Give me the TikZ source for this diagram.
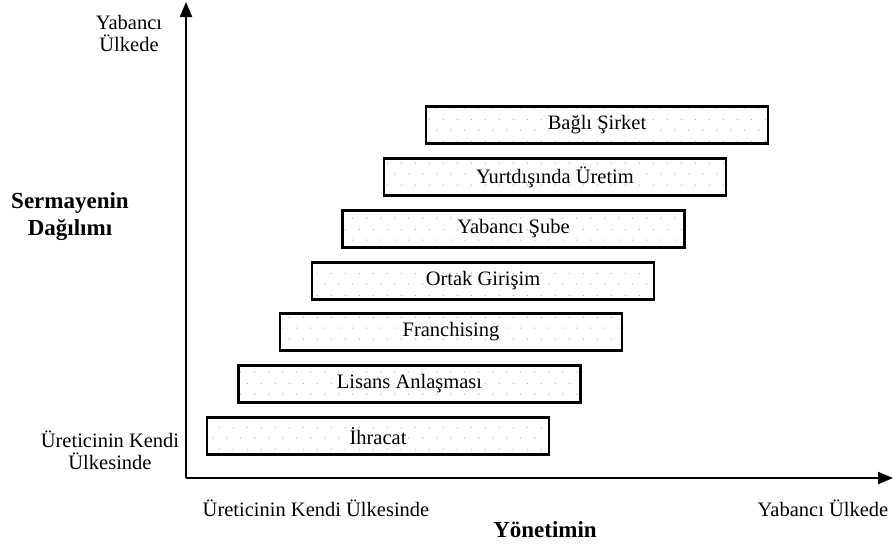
\documentclass[tikz,border=0pt]{standalone}
\usepackage{fontspec}
\setmainfont{Liberation Serif}
\usetikzlibrary{arrows.meta,patterns.meta}
\tikzdeclarepattern{name=sparsedots, type=colored,
  bounding box={(0pt,0pt) and (14pt,22pt)}, tile size={(14pt,22pt)},
  code={
    \fill[gray!55] (3pt,3pt) circle (0.75pt);
    \fill[gray!55] (10pt,14pt) circle (0.75pt);
  }}
\tikzset{
  bx/.style={draw=black, line width=2.6pt, minimum width=342pt, minimum height=37pt,
    pattern=sparsedots, inner sep=0pt, font=\fontsize{20.5}{24}\selectfont},
  lbl/.style={align=center, font=\fontsize{20.5}{22}\selectfont, inner sep=0pt},
  blbl/.style={align=center, font=\fontsize{23}{27}\selectfont\bfseries, inner sep=0pt},
  axis/.style={line width=2pt, -{Triangle[length=15pt,width=12pt]}}
}
\begin{document}
\begin{tikzpicture}[x=1pt,y=-1pt]
\useasboundingbox (0,0) rectangle (893,550);
\fill[white] (0,0) rectangle (893,550);
\coordinate (O) at (186,478);
\coordinate (Ytop) at (186,2);
\coordinate (Xend) at (893,478);
\draw[axis] (O) -- (Ytop);
\draw[axis] (O) -- (Xend);

\node[bx] (b1) at (597,125) {Bağlı Şirket};
\node[bx] (b2) at (555,177) {Yurtdışında Üretim};
\node[bx] (b3) at (513.5,229) {Yabancı Şube};
\node[bx] (b4) at (483,281) {Ortak Girişim};
\node[bx] (b5) at (451,332) {Franchising};
\node[bx] (b6) at (409.5,384) {Lisans Anlaşması};
\node[bx] (b7) at (378,436) {İhracat};

\node[lbl] (yu) at (129,33) {Yabancı\\Ülkede};
\node[blbl] (sd) at (70,217) {Sermayenin\\Dağılımı};
\node[lbl] (uk) at (110,450) {Üreticinin Kendi\\Ülkesinde};
\node[lbl] (xl) at (316,508) {Üreticinin Kendi Ülkesinde};
\node[lbl] (xr) at (823,508) {Yabancı Ülkede};
\node[blbl] (yn) at (545,530) {Yönetimin};
\end{tikzpicture}
\end{document}
